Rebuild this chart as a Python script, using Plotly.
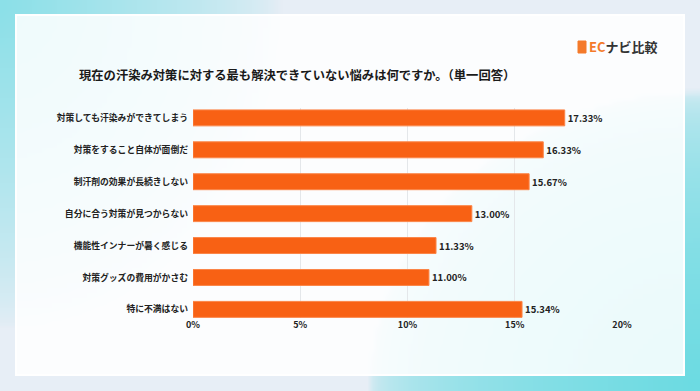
import base64, struct, zlib
import numpy as np
import plotly.graph_objects as go

# ---------------- data ----------------
categories = [
    "対策しても汗染みができてしまう",
    "対策をすること自体が面倒だ",
    "制汗剤の効果が長続きしない",
    "自分に合う対策が見つからない",
    "機能性インナーが暑く感じる",
    "対策グッズの費用がかさむ",
    "特に不満はない",
]
values = [17.33, 16.33, 15.67, 13.00, 11.33, 11.00, 15.34]
x_tickvals = [0, 5, 10, 15, 20]
x_ticktext = ["0%", "5%", "10%", "15%", "20%"]
title_text = "現在の汗染み対策に対する最も解決できていない悩みは何ですか。（単一回答）"

W, H = 700, 391
ML, MR, MT, MB = 193, 78, 108, 73
PW, PH = W - ML - MR, H - MT - MB

# ---------------- background gradient image ----------------
def png_uri(arr):
    h, w, _ = arr.shape
    raw = b"".join(b"\x00" + arr[i].tobytes() for i in range(h))
    def chunk(t, d):
        c = struct.pack(">I", len(d)) + t + d
        return c + struct.pack(">I", zlib.crc32(t + d) & 0xffffffff)
    png = b"\x89PNG\r\n\x1a\n" + chunk(b"IHDR", struct.pack(">IIBBBBB", w, h, 8, 2, 0, 0, 0))
    png += chunk(b"IDAT", zlib.compress(raw, 9)) + chunk(b"IEND", b"")
    return "data:image/png;base64," + base64.b64encode(png).decode()

sw, sh = 140, 78
xx, yy = np.meshgrid(np.linspace(0, W, sw), np.linspace(0, H, sh))
base = np.array([231, 238, 246], float)
c1 = np.array([140, 224, 232], float)
c2 = np.array([108, 219, 226], float)
w1 = np.clip(1 - np.sqrt((xx / 280) ** 2 + (yy / 330) ** 2), 0, 1) ** 0.7
w2 = np.clip(1 - np.sqrt(((W - xx) / 330) ** 2 + ((H - yy) / 300) ** 2), 0, 1) ** 0.35
wt = np.clip(w1 + w2, 0, 1)
mix = (c1 * w1[..., None] + c2 * w2[..., None]) / np.maximum(w1 + w2, 1e-6)[..., None]
img = base[None, None, :] * (1 - wt)[..., None] + mix * wt[..., None]
img = np.clip(img, 0, 255).astype(np.uint8)
bg_uri = png_uri(img)

FONT = "Noto Sans CJK JP"

fig = go.Figure()
fig.add_trace(go.Bar(
    x=values,
    y=list(range(len(categories))),
    orientation="h",
    width=0.5,
    marker=dict(color="#f86114", line=dict(color="#fb8547", width=1)),
    texttemplate="%{x:.2f}%",
    textposition="outside",
    textfont=dict(family=FONT, size=9.5, color="#222222", weight=700),
    cliponaxis=False,
    hoverinfo="skip",
))

fig.update_layout(
    width=W, height=H,
    margin=dict(l=ML, r=MR, t=MT, b=MB),
    paper_bgcolor="#e7eef6",
    plot_bgcolor="rgba(0,0,0,0)",
    font=dict(family=FONT, color="#222222", weight=700),
    showlegend=False,
    xaxis=dict(
        range=[0, 20], tickvals=x_tickvals, ticktext=x_ticktext,
        showgrid=True, gridcolor="#e4e7ea", gridwidth=1,
        zeroline=False, showline=False, ticks="",
        tickfont=dict(size=9, color="#222222", family=FONT, weight=700),
        fixedrange=True,
    ),
    yaxis=dict(
        range=[6.27, -0.31],
        tickvals=list(range(len(categories))), ticktext=categories,
        showgrid=False, zeroline=False, showline=False, ticks="",
        ticklabelstandoff=4,
        tickfont=dict(size=8.8, color="#222222", family=FONT, weight=700),
        fixedrange=True,
    ),
    images=[dict(
        source=bg_uri, xref="paper", yref="paper",
        x=-ML / PW, y=1 + MT / PH, sizex=W / PW, sizey=H / PH,
        xanchor="left", yanchor="top", sizing="stretch", layer="below",
    )],
    shapes=[
        dict(type="rect", xref="paper", yref="paper",
             x0=(16 - ML) / PW, x1=(684 - ML) / PW,
             y0=1 - (375 - MT) / PH, y1=1 + (MT - 15) / PH,
             fillcolor="rgba(255,255,255,0.86)", line=dict(color="#ffffff", width=2),
             layer="below"),
        # logo icon
        dict(type="rect", xref="paper", yref="paper",
             x0=(578 - ML) / PW, x1=(586 - ML) / PW,
             y0=1 + (MT - 53) / PH, y1=1 + (MT - 41) / PH,
             fillcolor="#f47a2a", line=dict(color="#f47a2a", width=1),
             layer="above"),
    ],
    annotations=[
        dict(text=title_text, xref="paper", yref="paper",
             x=(77 - ML) / PW, y=1 + (MT - 75) / PH, xanchor="left", yanchor="middle",
             showarrow=False, font=dict(size=12.3, color="#1a1a1a", family=FONT, weight=700)),
        dict(text="<span style='color:#f47a2a'>EC</span>ナビ比較", xref="paper", yref="paper",
             x=(587 - ML) / PW, y=1 + (MT - 47) / PH, xanchor="left", yanchor="middle",
             showarrow=False, font=dict(size=13, color="#333333", family=FONT, weight=700)),
    ],
)

fig.write_html("out.html", config={"displayModeBar": False},
               post_script="document.body.style.margin='0';document.body.style.overflow='hidden';")
